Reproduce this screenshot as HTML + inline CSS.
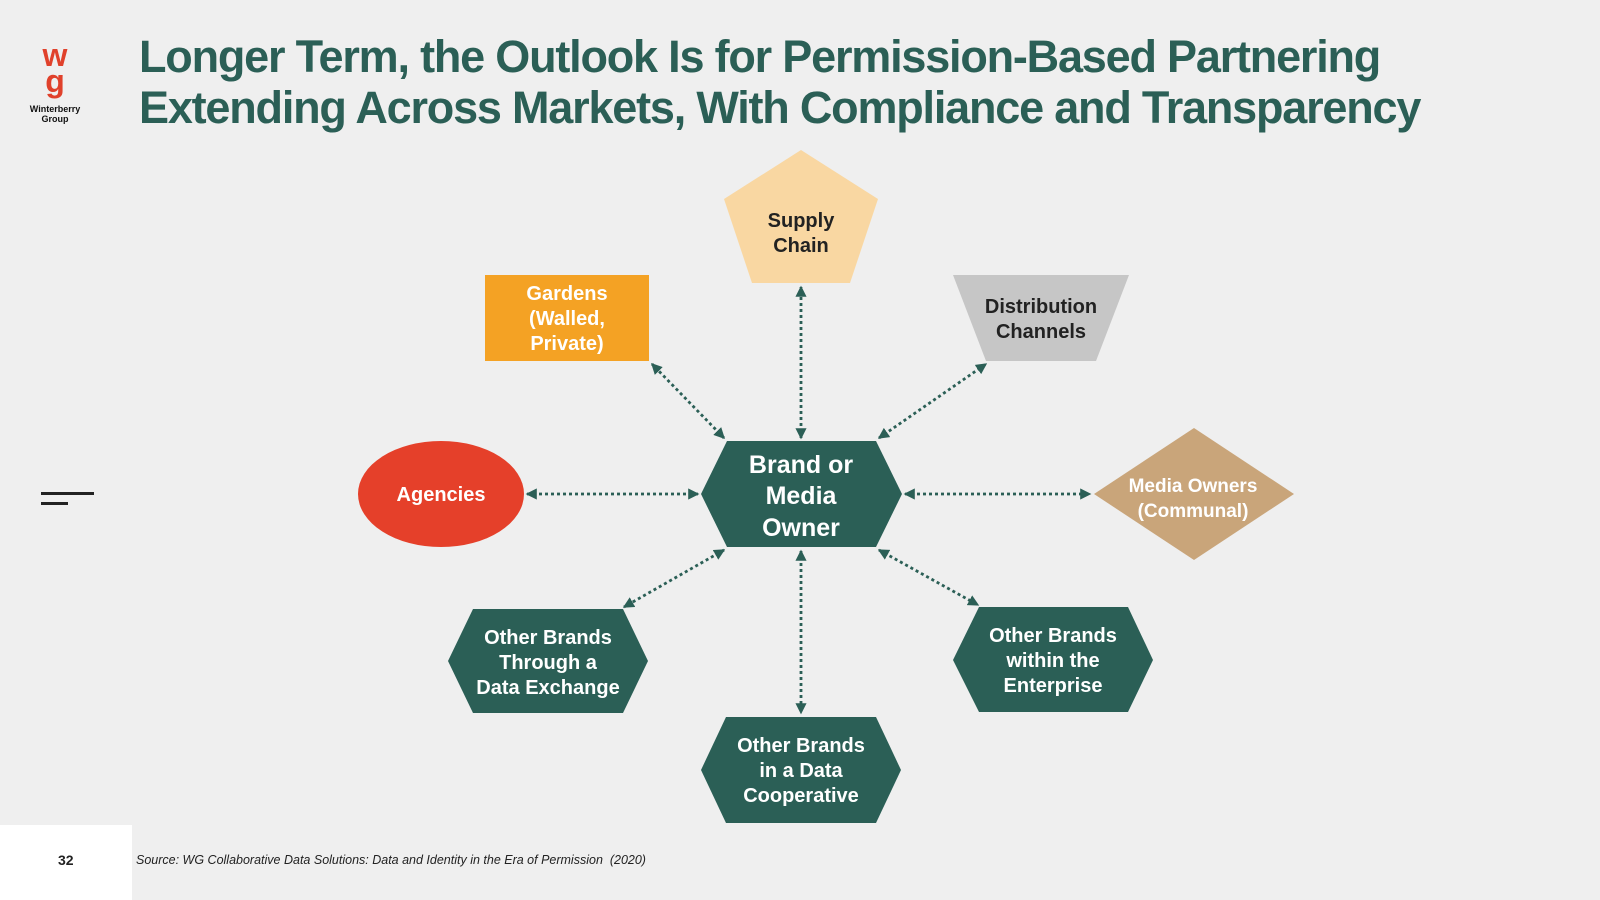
<!DOCTYPE html>
<html><head><meta charset="utf-8"><style>
html,body{margin:0;padding:0;width:1600px;height:900px;overflow:hidden;background:#efefef;font-family:"Liberation Sans",sans-serif;}
.t{position:absolute;left:139px;top:31px;color:#2b5f56;font-weight:bold;font-size:45px;line-height:51px;letter-spacing:-1.2px;}
</style></head><body>
<div style="position:absolute;left:0;top:825px;width:132px;height:75px;background:#fff"></div>
<div style="position:absolute;left:58px;top:852px;font-size:14px;font-weight:bold;color:#222">32</div>
<div style="position:absolute;left:136px;top:853px;font-size:12.5px;font-style:italic;color:#222">Source: WG Collaborative Data Solutions: Data and Identity in the Era of Permission&nbsp; (2020)</div>
<div class="t">Longer Term, the Outlook Is for Permission-Based Partnering<br>Extending Across Markets, With Compliance and Transparency</div>
<div style="position:absolute;left:38px;top:42px;width:34px;text-align:center;color:#e0412b;font-weight:bold;font-size:32px;line-height:26px">w<br>g</div>
<div style="position:absolute;left:20px;top:104px;width:70px;text-align:center;font-size:9px;font-weight:bold;line-height:10px;color:#111">Winterberry<br>Group</div>
<div style="position:absolute;left:41px;top:492px;width:53px;height:3px;background:#222"></div>
<div style="position:absolute;left:41px;top:502px;width:27px;height:3px;background:#222"></div>
<svg width="1600" height="900" style="position:absolute;left:0;top:0" font-family="Liberation Sans, sans-serif" font-weight="bold" text-anchor="middle">
<defs><marker id="a" markerWidth="4" markerHeight="4" refX="3.5" refY="2" orient="auto-start-reverse" markerUnits="strokeWidth"><path d="M0,0 L4,2 L0,4z" fill="#2b5f56"/></marker></defs>
<g stroke="#2b5f56" stroke-width="2.8" stroke-dasharray="3,3" marker-start="url(#a)" marker-end="url(#a)">
<line x1="801" y1="438" x2="801" y2="287"/>
<line x1="724" y1="438" x2="652" y2="364"/>
<line x1="879" y1="438" x2="986" y2="364"/>
<line x1="698" y1="494" x2="527" y2="494"/>
<line x1="905" y1="494" x2="1090" y2="494"/>
<line x1="724" y1="550" x2="624" y2="607"/>
<line x1="879" y1="550" x2="978" y2="605"/>
<line x1="801" y1="551" x2="801" y2="713"/>
</g>
<polygon points="801,150 878,199 850,283 752,283 724,199" fill="#f9d7a2"/>
<text font-size="20" fill="#222"><tspan x="801" y="227">Supply</tspan><tspan x="801" y="252">Chain</tspan></text>
<rect x="485" y="275" width="164" height="86" fill="#f4a224"/>
<text font-size="20" fill="#fff"><tspan x="567" y="300">Gardens</tspan><tspan x="567" y="325">(Walled,</tspan><tspan x="567" y="350">Private)</tspan></text>
<polygon points="953,275 1129,275 1096,361 986,361" fill="#c6c6c6"/>
<text font-size="20" fill="#222"><tspan x="1041" y="313">Distribution</tspan><tspan x="1041" y="338">Channels</tspan></text>
<ellipse cx="441" cy="494" rx="83" ry="53" fill="#e5402a"/>
<text font-size="20" fill="#fff" x="441" y="501">Agencies</text>
<polygon points="701,494 727,441 876,441 902,494 876,547 727,547" fill="#2b5f56"/>
<text font-size="25" fill="#fff"><tspan x="801" y="473">Brand or</tspan><tspan x="801" y="504">Media</tspan><tspan x="801" y="536">Owner</tspan></text>
<polygon points="1194,428 1294,494 1194,560 1094,494" fill="#c9a57a"/>
<text font-size="19" fill="#fff"><tspan x="1193" y="492">Media Owners</tspan><tspan x="1193" y="517">(Communal)</tspan></text>
<polygon points="448,661 473,609 623,609 648,661 623,713 473,713" fill="#2b5f56"/>
<text font-size="20" fill="#fff"><tspan x="548" y="644">Other Brands</tspan><tspan x="548" y="669">Through a</tspan><tspan x="548" y="694">Data Exchange</tspan></text>
<polygon points="953,660 979,607 1128,607 1153,660 1128,712 979,712" fill="#2b5f56"/>
<text font-size="20" fill="#fff"><tspan x="1053" y="642">Other Brands</tspan><tspan x="1053" y="667">within the</tspan><tspan x="1053" y="692">Enterprise</tspan></text>
<polygon points="701,770 726,717 876,717 901,770 876,823 726,823" fill="#2b5f56"/>
<text font-size="20" fill="#fff"><tspan x="801" y="752">Other Brands</tspan><tspan x="801" y="777">in a Data</tspan><tspan x="801" y="802">Cooperative</tspan></text>
</svg>
</body></html>
